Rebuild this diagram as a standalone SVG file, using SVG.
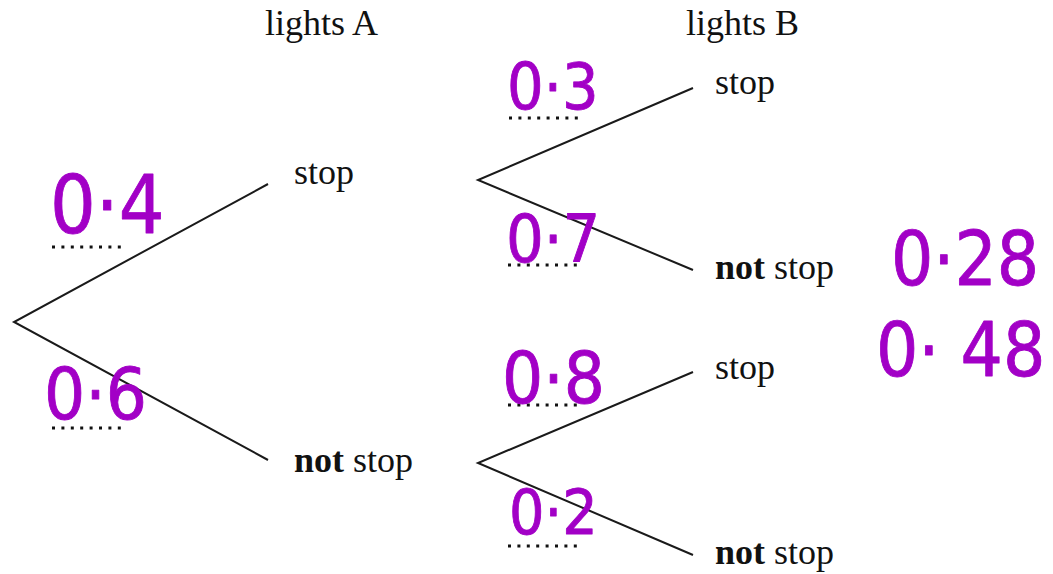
<svg xmlns="http://www.w3.org/2000/svg" width="1053" height="574" viewBox="0 0 1053 574">
<style>
.br{stroke:#1a1a1a;stroke-width:2;fill:none}
.dot{stroke:#111;stroke-width:3;stroke-dasharray:3 6.4;fill:none}
.lbl{font-family:"Liberation Serif",serif;font-size:36px;fill:#111}
.hw{font-family:"DejaVu Sans Condensed","DejaVu Sans",sans-serif;fill:#a200c6;stroke:#a200c6;stroke-width:0.8;stroke-linejoin:round}
</style>
<rect width="1053" height="574" fill="#fff"/>
<g id="connectors">
<polyline class="br" points="268,184 14,322 268,460"/>
<polyline class="br" points="693,88 478,180 693,270"/>
<polyline class="br" points="693,372 478,463 693,555"/>
</g>
<g id="headers">
<text class="lbl" x="265" y="35">lights A</text>
<text class="lbl" x="686" y="35">lights B</text>
</g>
<g id="A-stop"><text class="lbl" x="294" y="184">stop</text></g>
<g id="A-notstop"><text class="lbl" x="294" y="472"><tspan font-weight="bold">not</tspan> stop</text></g>
<g id="B1-stop"><text class="lbl" x="715" y="94">stop</text></g>
<g id="B1-notstop"><text class="lbl" x="715" y="279"><tspan font-weight="bold">not</tspan> stop</text></g>
<g id="B2-stop"><text class="lbl" x="715" y="379">stop</text></g>
<g id="B2-notstop"><text class="lbl" x="715" y="564"><tspan font-weight="bold">not</tspan> stop</text></g>
<g id="blanks">
<line class="dot" x1="52" y1="247" x2="126" y2="247"/>
<line class="dot" x1="52" y1="428" x2="126" y2="428"/>
<line class="dot" x1="509" y1="118" x2="583" y2="118"/>
<line class="dot" x1="508" y1="265" x2="582" y2="265"/>
<line class="dot" x1="508" y1="405" x2="582" y2="405"/>
<line class="dot" x1="508" y1="546" x2="582" y2="546"/>
</g>
<g id="answers">
<text class="hw" x="50" y="233" font-size="80">0·4</text>
<text class="hw" x="44" y="419" font-size="72">0·6</text>
<text class="hw" x="507" y="109" font-size="64">0·3</text>
<text class="hw" x="506" y="262" font-size="66">0·7</text>
<text class="hw" x="502" y="403" font-size="72">0·8</text>
<text class="hw" x="509" y="534" font-size="62">0·2</text>
<text class="hw" x="891" y="285" font-size="74">0·28</text>
<text class="hw" x="876" y="376" font-size="74">0· 48</text>
</g>
</svg>
